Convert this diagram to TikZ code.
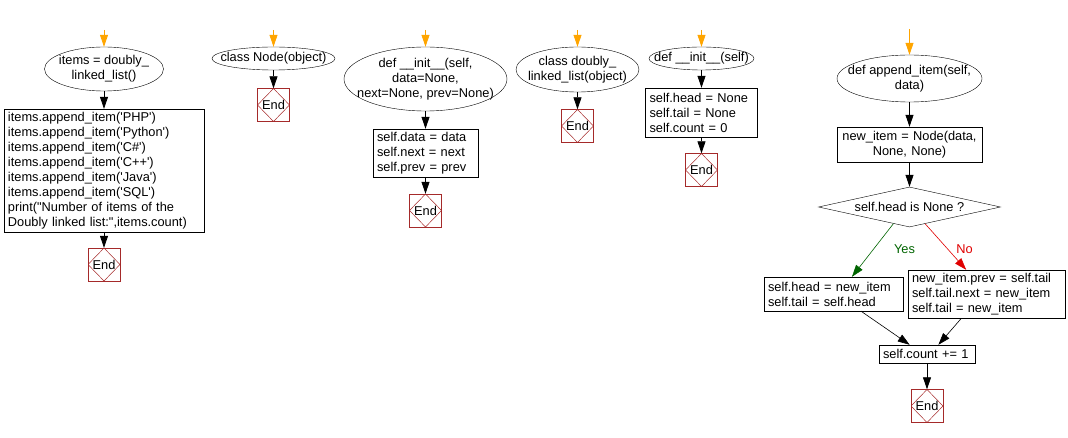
\documentclass[tikz,border=0pt]{standalone}
\usepackage{fontspec}
\newfontfamily\flowfont{Liberation Sans}
\usetikzlibrary{shapes.geometric,arrows.meta}
\definecolor{endred}{HTML}{A52A2A}
\definecolor{startorange}{HTML}{FFA500}
\definecolor{yesgreen}{HTML}{006400}
\definecolor{nored}{HTML}{E00000}

\begin{document}
\begin{tikzpicture}[x=1pt,y=-1pt,
  every node/.style={font=\flowfont\fontsize{12.8}{15}\selectfont},
  term/.style={draw,ellipse,inner sep=0pt},
  proc/.style={draw,rectangle,inner xsep=4pt,inner ysep=0pt,align=left},
  decide/.style={draw,diamond,aspect=4.55,inner sep=0pt,minimum width=182pt,minimum height=40pt},
  endbox/.style={draw=endred,rectangle,minimum width=32pt,minimum height=33pt,inner sep=0pt,
    path picture={\draw[endred,line width=0.5pt] (path picture bounding box.north)
      -- (path picture bounding box.east) -- (path picture bounding box.south)
      -- (path picture bounding box.west) -- cycle;}},
  flow/.style={-{Triangle[length=12pt,width=8pt]},line width=0.8pt},
  entry/.style={flow,startorange},
  yesflow/.style={-{Triangle[length=12pt,width=8pt]},line width=0.6pt,yesgreen},
  noflow/.style={-{Triangle[length=12pt,width=8pt]},line width=0.6pt,nored}]
  \useasboundingbox (0,0) rectangle (1068,438);

  % main program
  \coordinate (s1) at (104,30);
  \node[term,minimum width=119pt,minimum height=44pt,
    label={[align=center]center:{items = doubly\_\\linked\_list()}}] (e1) at (104,69) {};
  \node[proc,text width=192pt,minimum height=123pt] (b1) at (104,170.5) {items.append\_item('PHP')\\
    items.append\_item('Python')\\items.append\_item('C\#')\\items.append\_item('C++')\\
    items.append\_item('Java')\\items.append\_item('SQL')\\print("Number of items of the\\
    Doubly linked list:",items.count)};
  \node[endbox] (x1) at (104,264.5) {End};
  \draw[entry] (s1) -- (e1);
  \draw[flow] (e1) -- (b1);
  \draw[flow] (b1) -- (x1);

  % class Node
  \coordinate (s2) at (273.5,30);
  \node[term,minimum width=123pt,minimum height=23pt,
    label={center:{class Node(object)}}] (e2) at (273.5,58.5) {};
  \node[endbox] (x2) at (273.5,105) {End};
  \draw[entry] (s2) -- (e2);
  \draw[flow] (e2) -- (x2);

  % Node.__init__
  \coordinate (s3) at (425.5,30);
  \node[term,minimum width=163pt,minimum height=64pt,
    label={[align=center]center:{def \_\_init\_\_(self,\\data=None,\\next=None, prev=None)}}] (e3) at (425.5,79) {};
  \node[proc,text width=97pt,minimum height=48pt] (b3) at (425.5,153) {self.data = data\\self.next = next\\self.prev = prev};
  \node[endbox] (x3) at (425.5,210.5) {End};
  \draw[entry] (s3) -- (e3);
  \draw[flow] (e3) -- (b3);
  \draw[flow] (b3) -- (x3);

  % class doubly_linked_list
  \coordinate (s4) at (577.5,30);
  \node[term,minimum width=123pt,minimum height=45pt,
    label={[align=center]center:{class doubly\_\\linked\_list(object)}}] (e4) at (577.5,69.5) {};
  \node[endbox] (x4) at (577.5,126) {End};
  \draw[entry] (s4) -- (e4);
  \draw[flow] (e4) -- (x4);

  % doubly_linked_list.__init__
  \coordinate (s5) at (701.5,30);
  \node[term,minimum width=105pt,minimum height=23pt,
    label={center:{def \_\_init\_\_(self)}}] (e5) at (701.5,58.5) {};
  \node[proc,text width=104pt,minimum height=49pt] (b5) at (701.5,112.5) {self.head = None\\self.tail = None\\self.count = 0};
  \node[endbox] (x5) at (701.5,170) {End};
  \draw[entry] (s5) -- (e5);
  \draw[flow] (e5) -- (b5);
  \draw[flow] (b5) -- (x5);

  % append_item
  \coordinate (s6) at (909.5,29);
  \node[term,minimum width=145pt,minimum height=47pt,
    label={[align=center]center:{def append\_item(self,\\data)}}] (e6) at (909.5,78.5) {};
  \node[proc,align=center,text width=137pt,minimum height=35pt] (b6) at (909.5,144.5) {new\_item = Node(data,\\None, None)};
  \node[decide] (dec) at (909.5,207) {self.head is None ?};
  \node[proc,text width=131pt,minimum height=34pt] (yes) at (833.5,294) {self.head = new\_item\\self.tail = self.head};
  \node[proc,text width=149pt,minimum height=48pt] (no) at (986.5,294) {new\_item.prev = self.tail\\self.tail.next = new\_item\\self.tail = new\_item};
  \node[proc,text width=88pt,minimum height=18pt] (cnt) at (927,354) {self.count += 1};
  \node[endbox] (x6) at (927,406) {End};
  \node[text=yesgreen] (ly) at (904.5,249.5) {Yes};
  \node[text=nored] (ln) at (964.5,249.5) {No};
  \draw[entry] (s6) -- (e6);
  \draw[flow] (e6) -- (b6);
  \draw[flow] (b6) -- (dec);
  \draw[yesflow] (dec.226) -- (yes.43);
  \draw[noflow] (dec.313) -- (no.130.5);
  \draw[flow,line width=0.6pt] (yes.-32) -- (cnt.152);
  \draw[flow,line width=0.6pt] (no.224) -- (cnt.39);
  \draw[flow] (cnt) -- (x6);
\end{tikzpicture}
\end{document}
